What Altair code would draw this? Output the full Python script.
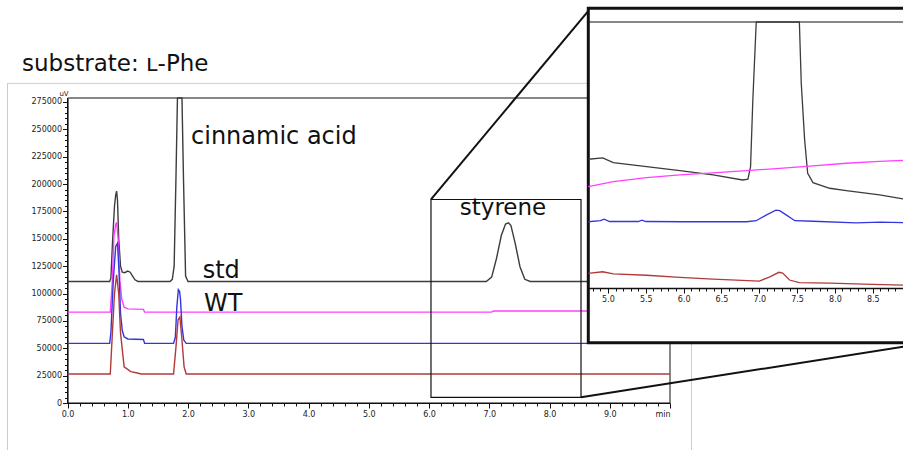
import altair as alt
import pandas as pd

# ---------------- chromatogram traces: retention time (min) / signal (uV) ----------------
std_t = [0.00, 0.70, 0.72, 0.75, 0.78, 0.80, 0.815, 0.83, 0.85, 0.88, 0.91, 0.95, 1.00, 1.04, 1.08, 1.12, 1.17,
         1.70, 1.74, 1.77, 1.80, 1.825, 1.90, 1.925, 1.96, 2.00,
         6.95, 7.04, 7.12, 7.20, 7.27, 7.32, 7.36, 7.43, 7.51, 7.59, 7.68, 10.00]
std_v = [111000, 111000, 114000, 150000, 180000, 190000, 193500, 185000, 150000, 125000, 119500, 119000, 120500,
         119500, 116000, 112500, 111000,
         111000, 113000, 125000, 205000, 278600, 278600, 205000, 116000, 111000,
         111000, 115000, 132000, 153000, 163500, 164500, 162000, 146000, 124500, 113000, 111000, 111000]

wt_t = [0.00, 0.71, 0.745, 0.77, 0.80, 0.815, 0.84, 0.87, 0.90, 0.94, 1.00, 1.26, 1.28, 7.04, 7.07, 10.00]
wt_v = [83000, 83000, 112000, 152000, 163000, 165000, 150000, 112000, 95000, 87500, 86000, 85500, 83000,
        83000, 84000, 84000]

s1_t = [0.00, 0.70, 0.72, 0.76, 0.80, 0.83, 0.855, 0.88, 0.91, 0.94, 1.00, 1.26, 1.28,
        1.76, 1.79, 1.815, 1.84, 1.86, 1.875, 1.90, 1.93, 1.97, 10.00]
s1_v = [54500, 54500, 64000, 112000, 143000, 146000, 120000, 82000, 66000, 60500, 58500, 58000, 54500,
        54500, 60000, 88000, 103500, 102000, 95000, 70000, 57500, 54500, 54500]

s2_t = [0.00, 0.71, 0.745, 0.78, 0.815, 0.85, 0.88, 0.94, 1.05, 1.16, 1.22,
        1.76, 1.80, 1.835, 1.865, 1.895, 1.935, 1.97, 10.00]
s2_v = [26500, 26500, 64000, 100000, 117000, 100000, 64000, 33000, 28600, 27400, 26500,
        26500, 51000, 76000, 78500, 61000, 33000, 26500, 26500]

# ---------------- enlarged view 4.7-8.9 min (relative signal) ----------------
in_std_t = [4.74, 4.93, 5.07, 5.51, 5.95, 6.39, 6.78, 6.85, 6.885, 6.915, 6.96, 7.53, 7.555, 7.60, 7.64, 7.71,
            7.93, 8.15, 8.59, 8.90]
in_std_v = [48.4, 48.9, 47.1, 45.6, 44.1, 42.5, 40.6, 40.9, 45.6, 70.7, 100, 100, 77.0, 55.6, 43.1, 39.6,
            37.5, 36.6, 35.0, 33.5]

in_wt_t = [4.74, 5.07, 5.51, 5.95, 6.39, 6.83, 7.27, 7.71, 8.15, 8.59, 8.90]
in_wt_v = [38.1, 40.0, 41.5, 42.5, 43.3, 44.1, 45.0, 45.9, 46.9, 47.6, 48.0]

in_s1_t = [4.74, 4.90, 4.95, 5.02, 5.40, 5.45, 5.50, 6.00, 6.83, 6.96, 7.09, 7.22, 7.27, 7.36, 7.47, 7.71,
           8.28, 8.60, 8.90]
in_s1_v = [24.9, 25.3, 25.9, 25.0, 25.0, 25.5, 25.0, 24.9, 24.9, 25.3, 27.4, 29.3, 29.1, 27.4, 25.3, 25.1,
           24.5, 24.8, 24.6]

in_s2_t = [4.74, 4.93, 5.07, 5.51, 5.95, 6.39, 7.00, 7.14, 7.26, 7.31, 7.40, 7.53, 7.93, 8.50, 8.90]
in_s2_v = [5.5, 6.1, 5.3, 4.8, 4.0, 3.3, 2.6, 4.2, 5.9, 5.6, 3.0, 2.0, 1.8, 1.4, 1.1]

# peak / trace labels
label_text = ["cinnamic acid", "std", "WT"]
label_t = [2.05, 2.244, 2.266]
label_v = [236300, 113900, 84300]
styrene_text = ["styrene"]
styrene_t = [7.228]
styrene_v = [171800]
heading_text = ["substrate: \u029f-Phe"]

# tick values
x_major_ticks = list(range(0, 11))
x_minor_ticks = [round(i * 0.2, 1) for i in range(51) if i % 5 != 0]
y_major_ticks = list(range(0, 275001, 25000))
y_minor_ticks = [v for v in range(0, 278001, 5000) if v % 25000 != 0]
in_major_ticks = [5.0, 5.5, 6.0, 6.5, 7.0, 7.5, 8.0, 8.5]
in_minor_ticks = [round(4.8 + i * 0.1, 1) for i in range(42) if round((4.8 + i * 0.1) * 10) % 5 != 0]

# ---------------- layout: scales map data onto the 903x450 canvas ----------------
X_MAIN = alt.Scale(domain=[0, 10], range=[67.5, 670], nice=False, zero=False)
Y_MAIN = alt.Scale(domain=[0, 278600], range=[403, 98], nice=False, zero=False)
X_IN = alt.Scale(domain=[4.74, 8.9], range=[588.3, 903], nice=False, zero=False)
Y_IN = alt.Scale(domain=[0, 100], range=[288, 22], nice=False, zero=False)

COLORS = ["#3c3c3c", "#ff40ff", "#3535e0", "#b03a3a"]
TICK_FONT = "DejaVu Sans"
TEXT_FONT = "DejaVu Sans"
H = 450


def box_df(x0, x1, y0, y1):
    return pd.DataFrame({"x": [x0], "x2": [x1], "y": [y0], "y2": [y1]})


def rect_layer(df, xs, ys, xaxis=None, yaxis=None, **mark):
    return alt.Chart(df).mark_rect(**mark).encode(
        x=alt.X("x:Q", scale=xs, axis=xaxis), x2="x2:Q",
        y=alt.Y("y:Q", scale=ys, axis=yaxis), y2="y2:Q",
    )


def rule_layer(df, xs, ys, xaxis=None, **mark):
    return alt.Chart(df).mark_rule(**mark).encode(
        x=alt.X("x:Q", scale=xs, axis=xaxis), x2="x2:Q",
        y=alt.Y("y:Q", scale=ys, axis=None), y2="y2:Q",
    )


def trace_layer(t, v, color, xs, ys, width, xaxis=None, yaxis=None):
    df = pd.DataFrame({"t": t, "v": v})
    return alt.Chart(df).mark_line(color=color, strokeWidth=width).encode(
        x=alt.X("t:Q", scale=xs, axis=xaxis),
        y=alt.Y("v:Q", scale=ys, axis=yaxis),
    )


def text_layer(text, t, v, align, size):
    df = pd.DataFrame({"label": text, "t": t, "v": v})
    return alt.Chart(df).mark_text(align=align, baseline="alphabetic", font=TEXT_FONT,
                                   fontSize=size, color="#111").encode(
        x=alt.X("t:Q", scale=X_MAIN, axis=None),
        y=alt.Y("v:Q", scale=Y_MAIN, axis=None),
        text="label:N",
    )


tick_style = dict(grid=False, title=None, labelFont=TICK_FONT, labelFontSize=8, labelColor="#222",
                  tickColor="#111", domainColor="#111", labelFlush=False, labelOverlap=False)

x_major = alt.Axis(values=x_major_ticks, orient="bottom", offset=403 - H, tickSize=5, labelPadding=2,
                   domainWidth=1.2,
                   labelExpr="datum.value == 10 ? 'min' : format(datum.value, '.1f')",
                   labelAlign={"condition": {"test": "datum.value == 10", "value": "right"}, "value": "center"},
                   **tick_style)
y_major = alt.Axis(values=y_major_ticks, orient="left", offset=-67.5, tickSize=5, labelPadding=1,
                   format="d", domainWidth=1.2,
                   **{k: v for k, v in tick_style.items() if k != "title"},
                   title="uV", titleAngle=0, titleX=-4, titleY=96, titleAlign="center",
                   titleBaseline="bottom", titleFont=TICK_FONT, titleFontSize=7,
                   titleFontWeight="normal", titleColor="#222")
x_minor = alt.Axis(values=x_minor_ticks, orient="bottom", offset=403 - H, tickSize=3, labels=False,
                   domain=False, grid=False, title=None, tickColor="#111")
y_minor = alt.Axis(values=y_minor_ticks, orient="left", offset=-67.5, tickSize=3, labels=False,
                   domain=False, grid=False, title=None, tickColor="#111")
in_major = alt.Axis(values=in_major_ticks, orient="bottom", offset=288 - H, tickSize=5, labelPadding=2,
                    format=".1f", domainWidth=1.6, zindex=1, **tick_style)
in_minor = alt.Axis(values=in_minor_ticks, orient="bottom", offset=288 - H, tickSize=3, labels=False,
                    domain=False, grid=False, title=None, tickColor="#111", zindex=1)

layers = []

# light frame around the chromatogram panel
layers.append(rect_layer(box_df(-0.996, 10.357, -50000, 292000), X_MAIN, Y_MAIN,
                         fillOpacity=0, stroke="#cccccc", strokeWidth=1))
# plot frame carrying the minor ticks
layers.append(rect_layer(box_df(0, 10, 0, 278600), X_MAIN, Y_MAIN, xaxis=x_minor, yaxis=y_minor,
                         fillOpacity=0, stroke="#111", strokeWidth=1))

main_traces = [(std_t, std_v), (wt_t, wt_v), (s1_t, s1_v), (s2_t, s2_v)]
for i, (t, v) in enumerate(main_traces):
    layers.append(trace_layer(t, v, COLORS[i], X_MAIN, Y_MAIN, 1.4,
                              xaxis=x_major if i == 0 else None,
                              yaxis=y_major if i == 0 else None))

# zoom window around the styrene peak and its connector lines
layers.append(rect_layer(box_df(6.033, 8.523, 5200, 185900), X_MAIN, Y_MAIN,
                         fillOpacity=0, stroke="#111", strokeWidth=1.2))
connectors = pd.DataFrame({"x": [6.033, 8.523], "x2": [8.656, 13.87],
                           "y": [185900, 5200], "y2": [358960, 51400]})
layers.append(rule_layer(connectors, X_MAIN, Y_MAIN, color="#111", strokeWidth=2))

layers.append(text_layer(label_text, label_t, label_v, "left", 24))
layers.append(text_layer(styrene_text, styrene_t, styrene_v, "center", 23))
layers.append(text_layer(heading_text, [-0.755], [303250], "left", 23))

# enlarged view
layers.append(rect_layer(box_df(4.74, 9.4, -20.6, 105.2), X_IN, Y_IN,
                         fill="white", stroke="#111", strokeWidth=3))
top_line = pd.DataFrame({"x": [4.74], "x2": [9.4], "y": [100], "y2": [100]})
layers.append(rule_layer(top_line, X_IN, Y_IN, xaxis=in_minor, color="#111", strokeWidth=1))

inset_traces = [(in_std_t, in_std_v), (in_wt_t, in_wt_v), (in_s1_t, in_s1_v), (in_s2_t, in_s2_v)]
for i, (t, v) in enumerate(inset_traces):
    layers.append(trace_layer(t, v, COLORS[i], X_IN, Y_IN, 1.3,
                              xaxis=in_major if i == 0 else None))

chart = (
    alt.layer(*layers)
    .resolve_scale(x="independent", y="independent")
    .properties(width=903, height=H, padding=0, autosize=alt.AutoSizeParams(type="none"))
    .configure_view(stroke=None)
)

chart.save("out.html", embed_options={"renderer": "svg", "actions": False})
